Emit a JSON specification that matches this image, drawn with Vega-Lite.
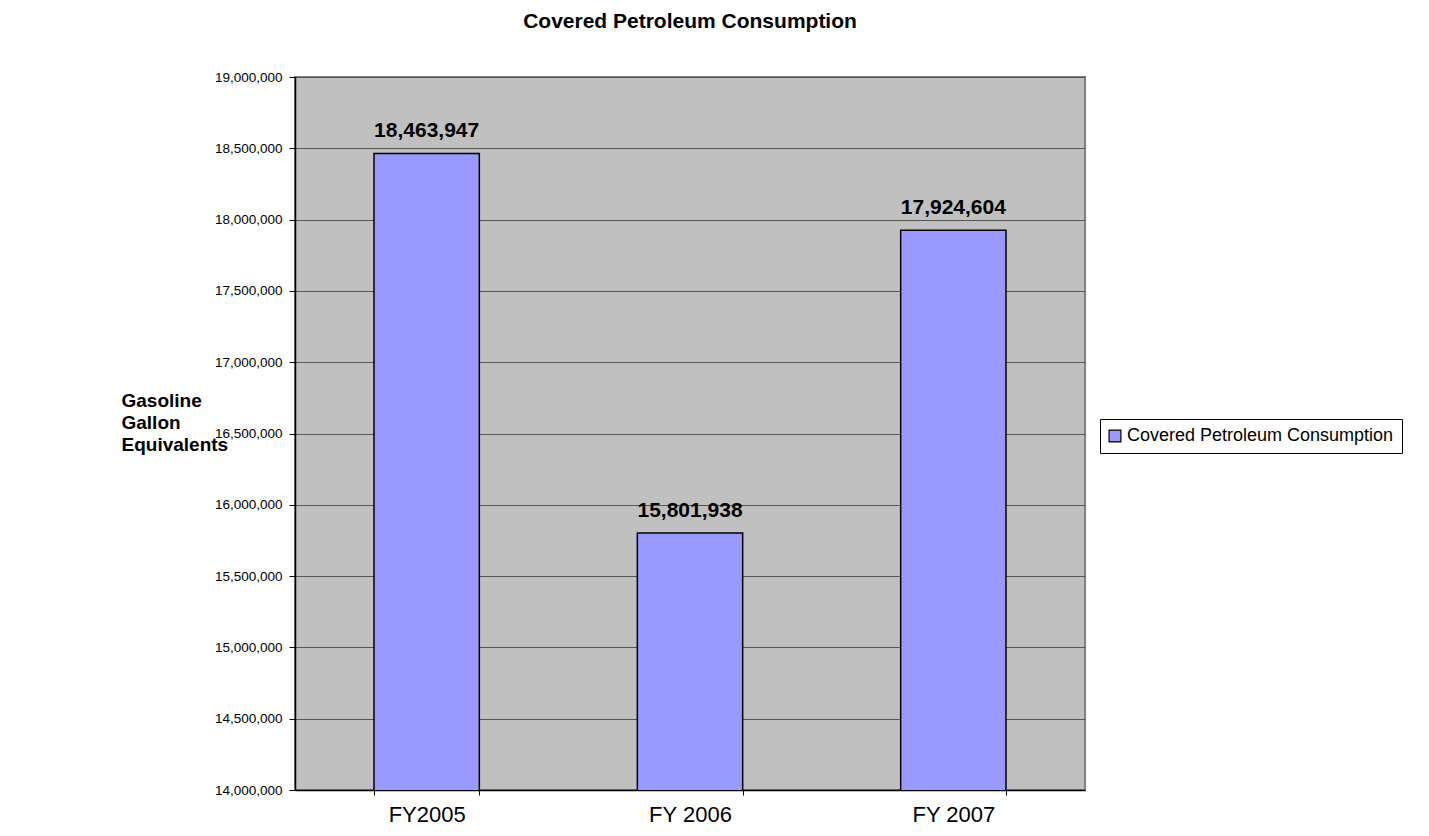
{
  "$schema": "https://vega.github.io/schema/vega-lite/v6.json",
  "autosize": {"type": "none"},
  "width": 790,
  "height": 713,
  "padding": {"left": 295, "top": 77, "right": 344, "bottom": 46},
  "background": "white",
  "config": {
    "font": "Liberation Sans",
    "view": {"fill": "#c0c0c0", "stroke": "#808080", "strokeWidth": 2}
  },
  "title": {
    "text": "Covered Petroleum Consumption",
    "fontSize": 21,
    "fontWeight": "bold",
    "color": "black",
    "anchor": "middle",
    "offset": 38
  },
  "data": {
    "values": [
      {"year": "FY2005", "value": 18463947, "series": "Covered Petroleum Consumption"},
      {"year": "FY 2006", "value": 15801938, "series": "Covered Petroleum Consumption"},
      {"year": "FY 2007", "value": 17924604, "series": "Covered Petroleum Consumption"}
    ]
  },
  "encoding": {
    "x": {
      "field": "year",
      "type": "nominal",
      "sort": null,
      "scale": {"paddingInner": 0.6, "paddingOuter": 0.3},
      "axis": {
        "title": null,
        "labelAngle": 0,
        "labelFontSize": 22,
        "labelColor": "black",
        "labelPadding": 9,
        "tickBand": "extent",
        "tickColor": "black",
        "tickSize": 5,
        "domainColor": "black",
        "domainWidth": 1.5,
        "grid": false
      }
    },
    "y": {
      "field": "value",
      "type": "quantitative",
      "scale": {"domain": [14000000, 19000000], "nice": false, "zero": false},
      "axis": {
        "title": ["Gasoline", "Gallon", "Equivalents"],
        "titleAngle": 0,
        "titleAlign": "left",
        "titleBaseline": "alphabetic",
        "titleX": -174,
        "titleY": 329,
        "titleFontSize": 19,
        "titleFontWeight": "bold",
        "titleLineHeight": 22,
        "titleColor": "black",
        "values": [14000000, 14500000, 15000000, 15500000, 16000000, 16500000, 17000000, 17500000, 18000000, 18500000, 19000000],
        "labelExpr": "format(datum.value, ',')",
        "labelFontSize": 13.5,
        "labelColor": "black",
        "labelPadding": 7,
        "tickColor": "black",
        "tickSize": 6,
        "domainColor": "black",
        "domainWidth": 1.5,
        "grid": true,
        "gridColor": "#555555",
        "gridWidth": 1
      }
    }
  },
  "layer": [
    {
      "mark": {"type": "bar", "stroke": "black", "strokeWidth": 1.5, "clip": true},
      "encoding": {
        "color": {
          "field": "series",
          "type": "nominal",
          "scale": {"range": ["#9999ff"]},
          "legend": {
            "title": null,
            "orient": "none",
            "legendX": 805,
            "legendY": 342,
            "strokeColor": "black",
            "padding": 8,
            "symbolType": "square",
            "symbolSize": 140,
            "symbolStrokeColor": "black",
            "symbolStrokeWidth": 1.2,
            "symbolOffset": -2,
            "labelFontSize": 18,
            "labelLimit": 400,
            "labelColor": "black",
            "labelOffset": 3,
            "symbolFillColor": "#9999ff"
          }
        }
      }
    },
    {
      "mark": {"type": "text", "dy": -22, "fontSize": 21, "fontWeight": "bold", "color": "black"},
      "encoding": {
        "text": {"field": "value", "type": "quantitative", "format": ","}
      }
    }
  ]
}
